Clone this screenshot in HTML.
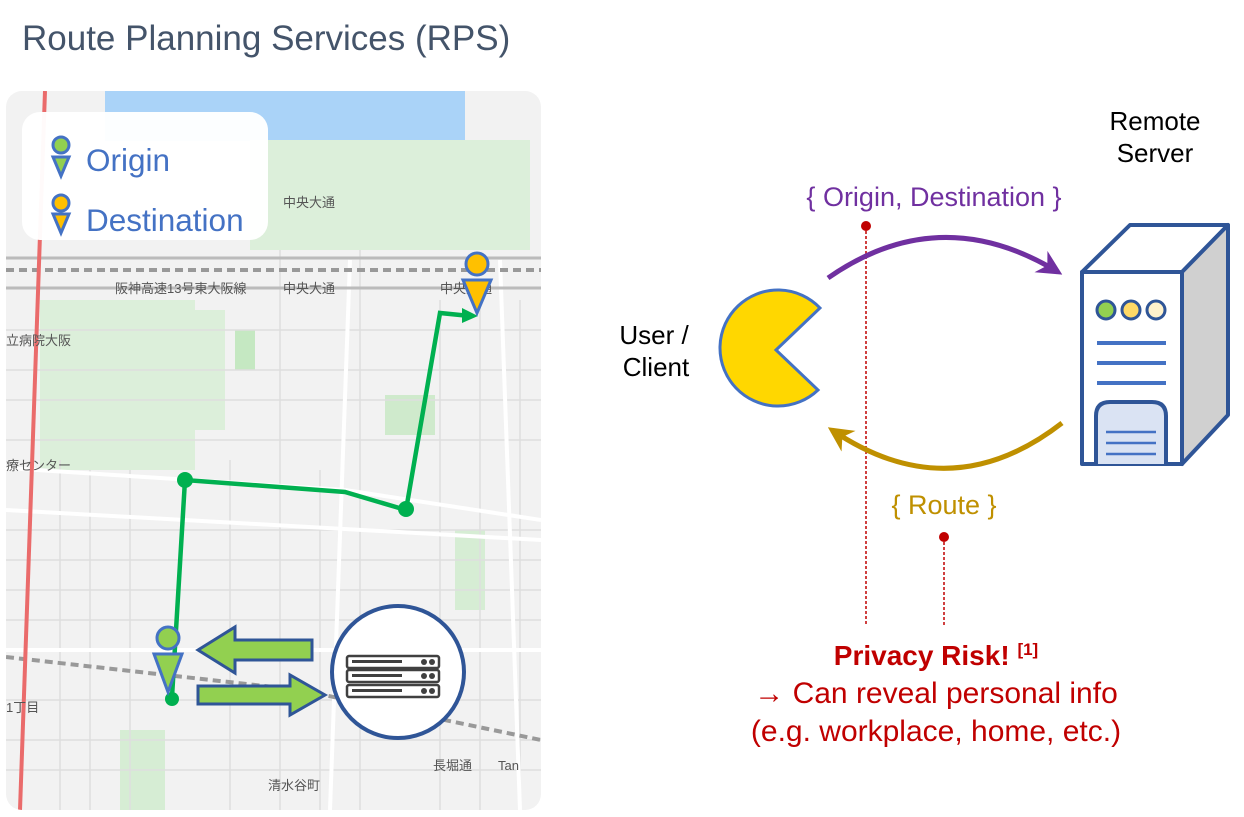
<!DOCTYPE html>
<html><head><meta charset="utf-8"><style>
body{margin:0;width:1244px;height:812px;background:#fff;overflow:hidden;font-family:"Liberation Sans","Noto Sans CJK JP",sans-serif}
</style></head><body>
<svg width="1244" height="812" viewBox="0 0 1244 812" xmlns="http://www.w3.org/2000/svg" font-family="Liberation Sans, Noto Sans CJK JP, sans-serif">
<defs>
<clipPath id="mc"><rect x="6" y="91" width="535" height="719" rx="16"/></clipPath>
<marker id="ap" viewBox="0 0 10 10" refX="8" refY="5" markerWidth="5" markerHeight="5" orient="auto"><path d="M0,0 L10,5 L0,10 L3,5z" fill="#7030a0"/></marker>
<marker id="ag" viewBox="0 0 10 10" refX="8" refY="5" markerWidth="5" markerHeight="5" orient="auto"><path d="M0,0 L10,5 L0,10 L3,5z" fill="#bf9000"/></marker>
</defs>
<text x="22" y="50" font-size="35" fill="#44546a">Route Planning Services (RPS)</text>
<g clip-path="url(#mc)">
<rect x="6" y="91" width="535" height="719" fill="#f2f2f2"/>
<rect x="105" y="91" width="360" height="50" fill="#aad3f8"/>
<rect x="265" y="130" width="120" height="20" fill="#aad3f8"/>
<rect x="250" y="140" width="280" height="110" fill="#dcefda"/>
<rect x="40" y="300" width="155" height="170" fill="#dcefda"/>
<rect x="195" y="310" width="30" height="120" fill="#dcefda"/>
<rect x="235" y="330" width="20" height="40" fill="#c5e8c2"/>
<rect x="385" y="395" width="50" height="40" fill="#cfeacc"/>
<rect x="120" y="730" width="45" height="80" fill="#d6edd4"/>
<rect x="455" y="530" width="30" height="80" fill="#d6edd4"/>
<g stroke="#dedede" stroke-width="1.5" fill="none">
<path d="M6 330H541M6 370H541M6 400H541M6 440H541M6 530H541M6 560H541M6 590H541M6 620H541M6 700H541M6 740H541M6 770H541"/>
<path d="M60 460V810M90 470V810M130 470V810M230 460V810M280 250V810M320 470V810M360 250V810M440 300V810M480 300V810M520 300V810"/>
</g>
<g stroke="#fff" stroke-width="4" fill="none">
<path d="M6 468 L345 490 L541 520"/>
<path d="M6 510 L541 540"/>
<path d="M350 260 L330 810"/>
<path d="M500 260 L520 810"/>
<path d="M6 650 H541"/>
</g>
<path d="M6 258 H541 M6 288 H541" stroke="#bbb" stroke-width="3"/>
<path d="M6 270 H541" stroke="#999" stroke-width="4" stroke-dasharray="8 5"/>
<path d="M6 657 L300 690 L541 740" stroke="#999" stroke-width="4" stroke-dasharray="8 5" fill="none"/>
<path d="M45 91 L20 810" stroke="#ea6b6b" stroke-width="4"/>
<g font-size="13" fill="#555">
<text x="283" y="207">中央大通</text>
<text x="115" y="293">阪神高速13号東大阪線</text><text x="283" y="293">中央大通</text>
<text x="440" y="293">中央大通</text>
<text x="6" y="345">立病院大阪</text><text x="6" y="470">療センター</text>
<text x="433" y="770">長堀通</text><text x="498" y="770">Tan</text>
<text x="268" y="790">清水谷町</text><text x="6" y="712">1丁目</text>
</g>
<rect x="22" y="112" width="246" height="128" rx="18" fill="#fff" opacity="0.97"/>
<circle cx="61" cy="145" r="8" fill="#92d050" stroke="#4472c4" stroke-width="3"/>
<path d="M53 157 H69 L61 176Z" fill="#92d050" stroke="#4472c4" stroke-width="3"/>
<circle cx="61" cy="203" r="8" fill="#ffc000" stroke="#4472c4" stroke-width="3"/>
<path d="M53 214 H69 L61 233Z" fill="#ffc000" stroke="#4472c4" stroke-width="3"/>
<text x="86" y="171" font-size="31.5" fill="#4472c4">Origin</text>
<text x="86" y="231" font-size="31.5" fill="#4472c4">Destination</text>
<path d="M172 697 L185 480 L345 492 L406 510 L440 313 L470 316" stroke="#00b050" stroke-width="4.5" fill="none"/>
<path d="M462 308 L478 316 L462 323Z" fill="#00b050"/>
<circle cx="185" cy="480" r="8" fill="#00b050"/><circle cx="406" cy="509" r="8" fill="#00b050"/><circle cx="172" cy="699" r="7" fill="#00b050"/>
<circle cx="477" cy="264" r="11" fill="#ffc000" stroke="#4472c4" stroke-width="3"/>
<path d="M463 280 H491 L477 313Z" fill="#ffc000" stroke="#4472c4" stroke-width="3"/>
<circle cx="168" cy="638" r="11" fill="#92d050" stroke="#4472c4" stroke-width="3"/>
<path d="M154 654 H182 L168 692Z" fill="#92d050" stroke="#4472c4" stroke-width="3"/>
<path d="M312 640 V660 H235 V673 L198 650 L235 627 V640Z" fill="#92d050" stroke="#2f5597" stroke-width="3"/>
<path d="M198 686 H290 V675 L325 695 L290 715 V704 H198Z" fill="#92d050" stroke="#2f5597" stroke-width="3"/>
<circle cx="398" cy="672" r="66" fill="#fff" stroke="#2f5597" stroke-width="4"/>
<g fill="none" stroke="#404040" stroke-width="2.5">
<rect x="347" y="656" width="92" height="12" rx="2"/><rect x="347" y="670" width="92" height="12" rx="2"/><rect x="347" y="685" width="92" height="12" rx="2"/>
</g>
<g fill="#404040"><circle cx="424" cy="662" r="3"/><circle cx="432" cy="662" r="3"/><circle cx="424" cy="676" r="3"/><circle cx="432" cy="676" r="3"/><circle cx="424" cy="691" r="3"/><circle cx="432" cy="691" r="3"/>
<rect x="352" y="660" width="50" height="3"/><rect x="352" y="674" width="50" height="3"/><rect x="352" y="689" width="50" height="3"/></g>
</g>
<text x="1155" y="130" font-size="26" text-anchor="middle">Remote</text>
<text x="1155" y="162" font-size="26" text-anchor="middle">Server</text>
<text x="934" y="206" font-size="27" fill="#7030a0" text-anchor="middle">{ Origin, Destination }</text>
<text x="944" y="514" font-size="27" fill="#bf9000" text-anchor="middle">{ Route }</text>
<text x="654" y="344" font-size="26" text-anchor="middle">User /</text>
<text x="656" y="376" font-size="26" text-anchor="middle">Client</text>
<path d="M866 226 V625 M944 537 V625" stroke="#c00000" stroke-width="1.5" stroke-dasharray="3 2"/>
<circle cx="866" cy="226" r="5" fill="#c00000"/><circle cx="944" cy="537" r="5" fill="#c00000"/>
<path d="M776 350 L820 308 A58 58 0 1 0 818 390 Z" fill="#ffd700" stroke="#4472c4" stroke-width="3"/>
<path d="M828 278 Q940 200 1058 272" stroke="#7030a0" stroke-width="5" fill="none" marker-end="url(#ap)"/>
<path d="M1062 423 Q950 510 832 430" stroke="#bf9000" stroke-width="5" fill="none" marker-end="url(#ag)"/>
<g stroke="#2f5597" stroke-width="4" stroke-linejoin="round">
<path d="M1082 272 L1130 225 H1228 L1182 272Z" fill="#fff"/>
<path d="M1182 272 L1228 225 V415 L1182 464Z" fill="#d0d0d0"/>
<rect x="1082" y="272" width="100" height="192" fill="#fff"/>
<path d="M1096 464 V416 Q1096 402 1110 402 H1152 Q1166 402 1166 416 V464" fill="#dae3f3"/>
</g>
<circle cx="1106" cy="310" r="9" fill="#92d050" stroke="#2f5597" stroke-width="3"/>
<circle cx="1131" cy="310" r="9" fill="#ffd966" stroke="#2f5597" stroke-width="3"/>
<circle cx="1156" cy="310" r="9" fill="#fff2cc" stroke="#2f5597" stroke-width="3"/>
<path d="M1097 343H1166M1097 363H1166M1097 383H1166" stroke="#4472c4" stroke-width="4"/>
<path d="M1106 432H1156M1106 443H1156M1106 454H1156" stroke="#4472c4" stroke-width="2.5"/>
<text x="936" y="665" font-size="28" font-weight="bold" fill="#c00000" text-anchor="middle">Privacy Risk! <tspan font-size="17" dy="-10">[1]</tspan></text>
<text x="936" y="703" font-size="30" fill="#c00000" text-anchor="middle">→ Can reveal personal info</text>
<text x="936" y="741" font-size="30" fill="#c00000" text-anchor="middle">(e.g. workplace, home, etc.)</text>
</svg>
</body></html>
